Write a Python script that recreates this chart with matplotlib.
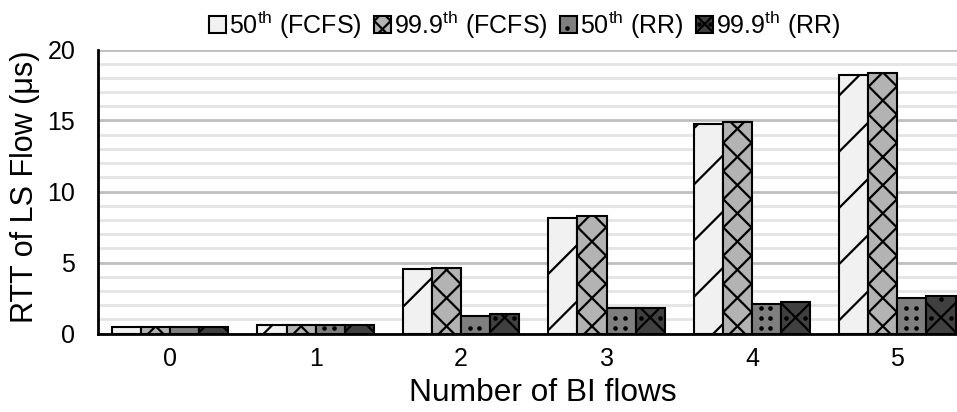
import numpy as np
import matplotlib
matplotlib.use("Agg")
import matplotlib.pyplot as plt
from matplotlib.collections import LineCollection
from matplotlib.lines import Line2D
from matplotlib.transforms import IdentityTransform

plt.rcParams['font.family'] = ['Liberation Sans', 'DejaVu Sans']
plt.rcParams['mathtext.fontset'] = 'custom'
plt.rcParams['mathtext.rm'] = 'Liberation Sans'
plt.rcParams['mathtext.it'] = 'Liberation Sans:italic'
plt.rcParams['mathtext.bf'] = 'Liberation Sans:bold'

# RTT of the latency-sensitive flow (us) vs number of bandwidth-intensive flows
categories = ['0', '1', '2', '3', '4', '5']
fcfs_p50 = [0.44, 0.62, 4.52, 8.11, 14.78, 18.22]
fcfs_p999 = [0.45, 0.63, 4.60, 8.27, 14.90, 18.32]
rr_p50 = [0.44, 0.62, 1.23, 1.77, 2.08, 2.48]
rr_p999 = [0.45, 0.63, 1.37, 1.80, 2.20, 2.62]

series_labels = [r'50$^{\rm th}$ (FCFS)', r'99.9$^{\rm th}$ (FCFS)',
                 r'50$^{\rm th}$ (RR)', r'99.9$^{\rm th}$ (RR)']
y_ticks = [0, 5, 10, 15, 20]

W, H = 957, 412
fig = plt.figure(figsize=(W / 100, H / 100), dpi=100)
ax = fig.add_axes([97.5 / W, 1 - 333.5 / H, (W - 97.5) / W, 284 / H])

x = np.arange(len(categories))
bw = 0.2
fills = ['#f1f1f1', '#b3b3b3', '#7f7f7f', '#404040']
series = [fcfs_p50, fcfs_p999, rr_p50, rr_p999]
offsets = [-1.5 * bw, -0.5 * bw, 0.5 * bw, 1.5 * bw]

bar_groups = []
for vals, off, col, lab in zip(series, offsets, fills, series_labels):
    bars = ax.bar(x + off, vals, bw, color=col, edgecolor='black',
                  linewidth=1.5, label=lab, zorder=3)
    bar_groups.append(bars)

ax.set_xlim(-0.5, 5.41)
ax.set_ylim(0, 20)
ax.set_xticks(x)
ax.set_xticklabels(categories)
ax.set_yticks(y_ticks)
ax.set_yticks(np.arange(0, 21, 1), minor=True)
ax.grid(which='minor', axis='y', color='#e4e4e4', linewidth=2, zorder=0)
ax.grid(which='major', axis='y', color='#bebebe', linewidth=2, zorder=0)
ax.set_axisbelow(True)
ax.tick_params(which='both', length=0)
ax.tick_params(axis='y', labelsize=18, pad=16)
ax.tick_params(axis='x', labelsize=18, pad=10)
for s in ['top', 'right']:
    ax.spines[s].set_visible(False)
for s in ['left', 'bottom']:
    ax.spines[s].set_linewidth(2)
    ax.spines[s].set_color('black')
    ax.spines[s].set_zorder(4)

ax.set_ylabel('RTT of LS Flow (μs)', fontsize=22, va='center')
ax.yaxis.set_label_coords(-0.0844, 0.518)
ax.set_xlabel('Number of BI flows', fontsize=22.8, va='center')
ax.xaxis.set_label_coords(0.518, -0.21)

leg = ax.legend(loc='center', bbox_to_anchor=(0.497, 1.088), ncol=4,
                frameon=False, fontsize=18, handlelength=0.68,
                handleheight=0.68, handletextpad=0.12, columnspacing=0.5,
                borderaxespad=0)

fig.canvas.draw()

HATCH_LW = 1.6


def add_lines(bb, slope, intercepts, lw=HATCH_LW):
    segs = []
    for c in intercepts:
        xa, xb = bb.x0 - 60, bb.x1 + 60
        segs.append([(xa, slope * xa + c), (xb, slope * xb + c)])
    lc = LineCollection(segs, colors='black', linewidths=lw,
                        transform=IdentityTransform(), zorder=10)
    lc.set_clip_box(bb)
    fig.add_artist(lc)


def intercept_range(bb, slope, phase, step):
    if slope > 0:
        lo, hi = bb.y0 - bb.x1, bb.y1 - bb.x0
    else:
        lo, hi = bb.y0 + bb.x0, bb.y1 + bb.x1
    k0 = np.floor((lo - phase) / step) - 1
    k1 = np.ceil((hi - phase) / step) + 1
    return [phase + k * step for k in np.arange(k0, k1 + 1)]


def add_dots(bb, pts, size=3.3):
    if not pts:
        return
    px, py = zip(*pts)
    ln = Line2D(px, py, linestyle='none', marker='o', markersize=size,
                markerfacecolor='black', markeredgewidth=0,
                transform=IdentityTransform(), zorder=11)
    ln.set_clip_box(bb)
    fig.add_artist(ln)


def hatch_diag(bb):
    add_lines(bb, 1, intercept_range(bb, 1, 39.4, 56.2))


def hatch_cross(bb, step, cx, cy):
    add_lines(bb, 1, intercept_range(bb, 1, cy - cx, step))
    add_lines(bb, -1, intercept_range(bb, -1, cy + cx, step))


def hatch_dots(bb, dx=9.7, dy=10.0):
    xs = np.arange(np.floor(bb.x0 / dx) * dx + 4, bb.x1 + dx, dx)
    ys = np.arange(np.floor(bb.y0 / dy) * dy + 4, bb.y1 + dy, dy)
    pts = [(a, b) for a in xs for b in ys
           if bb.x0 + 2 < a < bb.x1 - 2 and bb.y0 + 2 < b < bb.y1 - 2]
    add_dots(bb, pts)


def hatch_cross_dots(bb):
    w = bb.width
    cx = 0.5 * (bb.x0 + bb.x1)
    cy = bb.y0 + 0.55 * w
    hatch_cross(bb, 2 * w, cx, cy)
    pts = []
    for k in range(-1, int(bb.height / w) + 3):
        yb = cy + 2 * w * k
        pts.append((cx - 0.33 * w, yb))
        pts.append((cx + 0.33 * w, yb))
        pts.append((cx, yb + w * 0.62))
    pts = [(a, b) for a, b in pts if bb.y0 + 2 < b < bb.y1 - 2]
    add_dots(bb, pts)


def decorate(idx, bb):
    if idx == 0:
        hatch_diag(bb)
    elif idx == 1:
        w = bb.width
        hatch_cross(bb, w * 0.97, 0.5 * (bb.x0 + bb.x1), bb.y0 + 0.25 * w)
    elif idx == 2:
        hatch_dots(bb)
    else:
        hatch_cross_dots(bb)


for idx, bars in enumerate(bar_groups):
    for b in bars:
        decorate(idx, b.get_window_extent())

for idx, p in enumerate(leg.get_patches()):
    decorate(idx, p.get_window_extent())

fig.savefig('out.png', dpi=100)
